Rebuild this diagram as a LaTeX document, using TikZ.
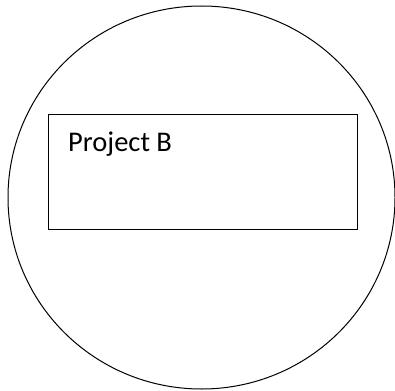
\documentclass[tikz,border=0pt]{standalone}
\usepackage{fontspec}
\setmainfont{Carlito}
\begin{document}
\begin{tikzpicture}[x=1pt,y=-1pt,line width=1pt,
  outline/.style={draw=black},
  label/.style={anchor=base west,inner sep=0pt,font=\fontsize{28.5}{34}\selectfont}]
\useasboundingbox (0,0) rectangle (395,390);
\draw[outline] (201.5,197.5) ellipse [x radius=193.5, y radius=191.5];
\node[outline,draw,minimum width=309pt,minimum height=114.7pt,inner sep=0pt,anchor=north west] (box) at (47.7,114.3) {};
\node[label] (title) at (67.7,151) {Project B};
\end{tikzpicture}
\end{document}
